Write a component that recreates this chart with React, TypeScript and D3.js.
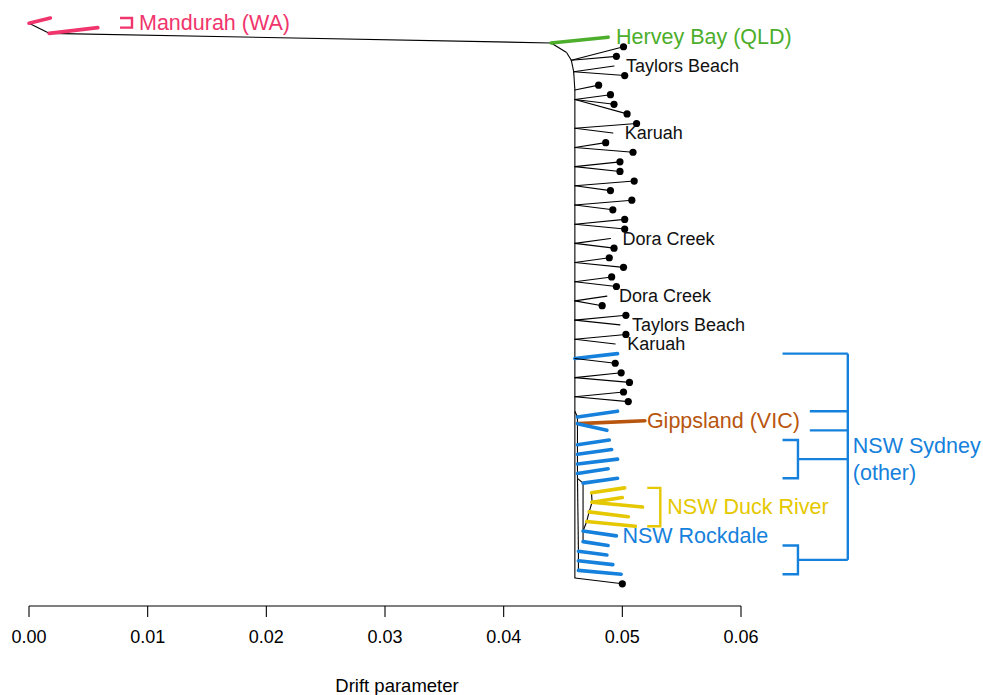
import React from 'react'
import * as d3 from 'd3'

const [W, H] = [983, 695]
const FONT = 'Liberation Sans, Arial, Helvetica, sans-serif'

// internal nodes: id, parent, drift, rank (rank = leaf order, top to bottom)
const nodeIds = ['root', 'm1', 'a', 'b1', 'n4', 'n6', 'n7', 'n9',
  'p11', 'p13', 'p15', 'p17', 'p19', 'p21', 'p23', 'p25', 'p27', 'p29', 'p31', 'p33', 'p35', 'p37', 'p39',
  'c0', 'bot', 'c1', 'c42', 'c44', 'c45', 'c46', 'c47', 'cD', 'c56', 'c57', 'c58',
  'd48', 'd54', 'd55', 'y4', 'y3', 'y2', 'y1']
const nodeParent = [null, 'root', 'm1', 'a', 'b1', 'n4', 'n6', 'n7',
  'n9', 'p11', 'p13', 'p15', 'p17', 'p19', 'p21', 'p23', 'p25', 'p27', 'p29', 'p31', 'p33', 'p35', 'p37',
  'p39', 'c0', 'c0', 'c1', 'c42', 'c44', 'c45', 'c46', 'c47', 'cD', 'c56', 'c57',
  'cD', 'd48', 'd54', 'd54', 'y4', 'y3', 'y2']
const nodeDrift = [0, 0.0017, 0.0440, 0.0453, 0.0457, 0.0459, 0.0460, 0.0460,
  0.0460, 0.0460, 0.0460, 0.0460, 0.0460, 0.0460, 0.0460, 0.0460, 0.0460, 0.0460, 0.0460, 0.0460, 0.0460, 0.0460, 0.0460,
  0.0460, 0.0460, 0.04622, 0.04622, 0.04622, 0.04622, 0.04622, 0.04622, 0.04622, 0.04630, 0.04630, 0.04630,
  0.04669, 0.04669, 0.04669, 0.0470, 0.0472, 0.04745, 0.0474]
const nodeRank = [0.55, 1.6, 2.6, 3.6, 4.4, 5.6, 7.5, 8.5,
  11.5, 13.5, 15.5, 17.5, 19.5, 21.5, 23.5, 25.5, 27.5, 29.5, 31.5, 33.5, 35.5, 37.5, 39.5,
  41.0, 58.4, 41.6, 42.3, 44.5, 45.5, 46.5, 47.5, 48.0, 55.6, 56.6, 57.6,
  48.5, 53.5, 54.6, 52.5, 51.5, 50.5, 49.5]

// leaves, in rank order 0..59
const leafParent = ['root', 'm1', 'a', 'n4', 'n4', 'n6', 'n6', 'n7', 'n9', 'n9',
  'n9', 'p11', 'p11', 'p13', 'p13', 'p15', 'p15', 'p17', 'p17', 'p19',
  'p19', 'p21', 'p21', 'p23', 'p23', 'p25', 'p25', 'p27', 'p27', 'p29',
  'p29', 'p31', 'p31', 'p33', 'p33', 'p35', 'p35', 'p37', 'p37', 'p39',
  'p39', 'c1', 'c42', 'c42', 'c44', 'c45', 'c46', 'c47', 'd48', 'y1',
  'y2', 'y2', 'y3', 'y4', 'd54', 'd55', 'c56', 'c57', 'c58', 'bot']
const leafDrift = [0.0018, 0.0058, 0.0488, 0.0501, 0.0495, 0.0493, 0.0502, 0.0480, 0.0490, 0.0493,
  0.0504, 0.0512, 0.0492, 0.0486, 0.0509, 0.0498, 0.0498, 0.0510, 0.0490, 0.0508,
  0.0492, 0.0502, 0.0502, 0.0490, 0.0493, 0.0489, 0.0501, 0.0491, 0.0495, 0.0487,
  0.0483, 0.0503, 0.0498, 0.0503, 0.0494, 0.0496, 0.0494, 0.0499, 0.0506, 0.0501,
  0.0505, 0.0496, 0.0519, 0.0487, 0.0489, 0.0491, 0.0496, 0.0488, 0.0496, 0.0502,
  0.0500, 0.0517, 0.0505, 0.0511, 0.0495, 0.0488, 0.0487, 0.0492, 0.0499, 0.0500]
// W = Mandurah, Q = Hervey Bay, k = unlabelled sample, S = Sydney, V = Gippsland, D = Duck River
const leafGroup = 'WWQkkkkkkkkkkkkkkkkkkkkkkkkkkkkkkkkSkkkkkSVSSSSSSDDDDDSSSSSk'.split('')

const sampleLabels: [number, string][] = [
  [5, 'Taylors Beach'], [12, 'Karuah'], [23, 'Dora Creek'],
  [29, 'Dora Creek'], [32, 'Taylors Beach'], [34, 'Karuah'],
]

const groupColor: Record<string, string> = {
  W: '#f0356c', Q: '#4cae2b', k: '#000000', S: '#1581dc', V: '#b8560f', D: '#e5c800',
}

// brackets: [label, group, rankFrom, rankTo, driftLeft, driftRight]
const simpleBrackets: [string, string, number, number, number, number][] = [
  ['Mandurah (WA)', 'W', 0, 1, 0.00767, 0.00868],
  ['NSW Duck River', 'D', 49, 53, 0.0521, 0.0532],
]
const sydneyArms: [number, number][] = [[35, 0.0635], [41, 0.0658], [43, 0.0658]]
const sydneySubs: [number, number][] = [[44, 48], [55, 58]]
const sydneyX = [0.0635, 0.0648, 0.0690]

const xTicks = [0, 0.01, 0.02, 0.03, 0.04, 0.05, 0.06]

function App() {
  const x = d3.scaleLinear().domain([0, 0.06]).range([29, 741])
  const y = d3.scaleLinear().domain([0, 59]).range([18, 583.8])
  const axisY = 606

  const node: Record<string, [number, number]> = {}
  nodeIds.forEach((id, i) => { node[id] = [x(nodeDrift[i]), y(nodeRank[i])] })

  const line = d3.line()
  const innerEdges = nodeIds.map((id, i) => {
    const p = nodeParent[i]
    if (!p) return null
    return <path key={id} d={line([node[p], node[id]]) || ''} stroke="#000" strokeWidth={1.1} fill="none" />
  })

  const leafTip = (i: number): [number, number] => [x(leafDrift[i]), y(i)]
  const leafEdges = leafParent.map((p, i) => {
    const g = leafGroup[i]
    return <path key={'l' + i} d={line([node[p], leafTip(i)]) || ''} stroke={groupColor[g]}
      strokeWidth={g === 'k' ? 1.1 : 3.6} strokeLinecap="round" fill="none" />
  })

  const labelled = new Set(sampleLabels.map(d => d[0]))
  const dots = leafGroup.map((g, i) => (g === 'k' && !labelled.has(i))
    ? <circle key={'d' + i} cx={leafTip(i)[0]} cy={leafTip(i)[1]} r={3.6} fill="#000" /> : null)

  const big = 21.5
  const sydC = groupColor.S
  const sy = [x(sydneyX[0]), x(sydneyX[1]), x(sydneyX[2])]
  const subMid = sydneySubs.map(([a, b]) => (y(a) + y(b)) / 2)

  return (
    <svg width={W} height={H} style={{ position: 'absolute', left: 0, top: 0, fontFamily: FONT }}>
      {innerEdges}
      {leafEdges}
      {dots}
      {sampleLabels.map(([i, t]) => (
        <text key={'s' + i} x={leafTip(i)[0] + 12} y={y(i)} dominantBaseline="central" fontSize={18} fill="#111">{t}</text>
      ))}
      <text x={leafTip(2)[0] + 8} y={y(2)} dominantBaseline="central" fontSize={big} fill={groupColor.Q}>Hervey Bay (QLD)</text>
      <text x={leafTip(42)[0] + 2} y={y(42)} dominantBaseline="central" fontSize={big} fill={groupColor.V}>Gippsland (VIC)</text>
      <text x={leafTip(54)[0] + 6} y={y(54)} dominantBaseline="central" fontSize={big} fill={groupColor.S}>NSW Rockdale</text>

      {simpleBrackets.map(([t, g, r0, r1, dl, dr]) => (
        <g key={t}>
          <path d={`M${x(dl)},${y(r0)}H${x(dr)}V${y(r1)}H${x(dl)}`} stroke={groupColor[g]} strokeWidth={2.4} fill="none" />
          <text x={x(dr) + 7} y={(y(r0) + y(r1)) / 2} dominantBaseline="central" fontSize={big} fill={groupColor[g]}>{t}</text>
        </g>
      ))}

      <g stroke={sydC} strokeWidth={2.4} fill="none">
        {sydneyArms.map(([r, d]) => <path key={'a' + r} d={`M${x(d)},${y(r)}H${sy[2]}`} />)}
        {sydneySubs.map(([a, b], k) => (
          <g key={'sb' + a}>
            <path d={`M${sy[0]},${y(a)}H${sy[1]}V${y(b)}H${sy[0]}`} />
            <path d={`M${sy[1]},${subMid[k]}H${sy[2]}`} />
          </g>
        ))}
        <path d={`M${sy[2]},${y(sydneyArms[0][0])}V${subMid[1]}`} />
      </g>
      <text x={sy[2] + 5} y={446} dominantBaseline="central" fontSize={big} fill={sydC}>NSW Sydney</text>
      <text x={sy[2] + 5} y={473} dominantBaseline="central" fontSize={big} fill={sydC}>(other)</text>

      <g>
        <line x1={x(0)} x2={x(0.06)} y1={axisY} y2={axisY} stroke="#000" strokeWidth={1.1} />
        {xTicks.map(t => (
          <g key={t}>
            <line x1={x(t)} x2={x(t)} y1={axisY} y2={axisY + 11} stroke="#000" strokeWidth={1.1} />
            <text x={x(t)} y={637} textAnchor="middle" dominantBaseline="central" fontSize={18} fill="#000">{d3.format('.2f')(t)}</text>
          </g>
        ))}
        <text x={397} y={685} textAnchor="middle" dominantBaseline="central" fontSize={18.5} fill="#000">Drift parameter</text>
      </g>
    </svg>
  )
}

export default App
